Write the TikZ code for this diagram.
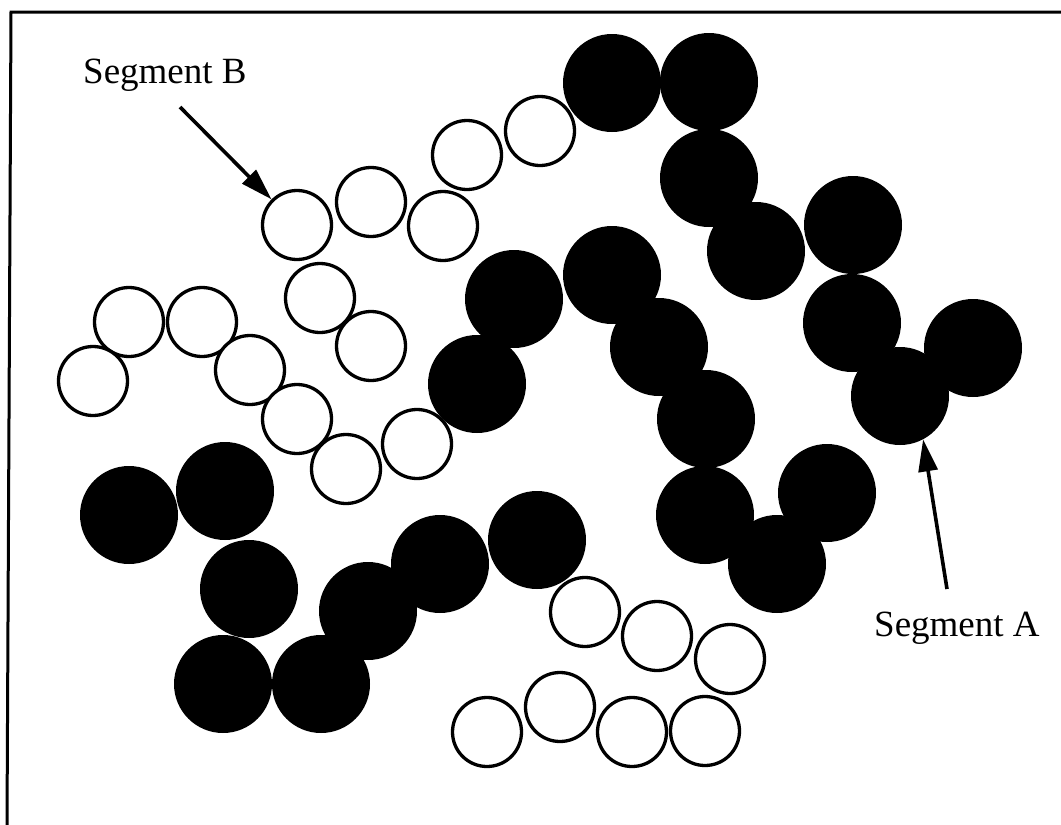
\documentclass[tikz,border=0pt]{standalone}
\usepackage{fontspec}
\setmainfont{Liberation Serif}
\usetikzlibrary{arrows.meta}
\begin{document}
\begin{tikzpicture}[x=1pt,y=-1pt,
  darkbead/.style={circle,fill=black,minimum size=98pt,inner sep=0pt},
  lightbead/.style={circle,draw=black,fill=white,line width=3.3pt,minimum size=69pt,inner sep=0pt},
  lbl/.style={anchor=base west,inner sep=0pt,font=\fontsize{37}{44}\selectfont},
  pointer/.style={line width=3.6pt,-{Triangle[length=32pt,width=19pt]}},
  frame/.style={line width=3pt}]
\useasboundingbox (0,0) rectangle (1061,825);

% frame edges
\coordinate (fTL) at (11,12);
\coordinate (fTR) at (1061,12);
\coordinate (fBL) at (7,825);
\draw[frame] (fTR) -- (fTL) -- (fBL);

% segment A (filled beads)
\foreach \n/\p in {1/{612,83},2/{709,82},3/{709,178},4/{756,251},5/{853,225},
                   6/{852,323},7/{973,348},8/{900,396},
                   9/{514,299},10/{477,384},11/{612,275},12/{659,347},
                   13/{706,419},14/{705,515},15/{777,564},16/{827,493},
                   17/{129,515},18/{225,491},19/{249,589},20/{223,684},
                   21/{321,684},22/{368,611},23/{440,564},24/{537,540}}
  \node[darkbead] (b\n) at (\p) {};

% segment B (open beads)
\foreach \n/\p in {1/{297,225},2/{371,202},3/{443,226},4/{467,155},5/{540,131},
                   6/{320,298},7/{371,346},8/{129,322},9/{202,322},10/{250,370},
                   11/{93,381},12/{297,419},13/{346,469},14/{417,444},
                   15/{585,612},16/{657,636},17/{730,659},
                   18/{487,732},19/{560,707},20/{632,732},21/{705,731}}
  \node[lightbead] (w\n) at (\p) {};

% labels and pointers
\node[lbl] (segB) at (83,83) {Segment B};
\node[lbl] (segA) at (874,636) {Segment A};
\coordinate (tailB) at (180,107);
\coordinate (tailA) at (947,589);
\draw[pointer] (tailB) -- (w1);
\draw[pointer] (tailA) -- (b8.-62);
\end{tikzpicture}
\end{document}
